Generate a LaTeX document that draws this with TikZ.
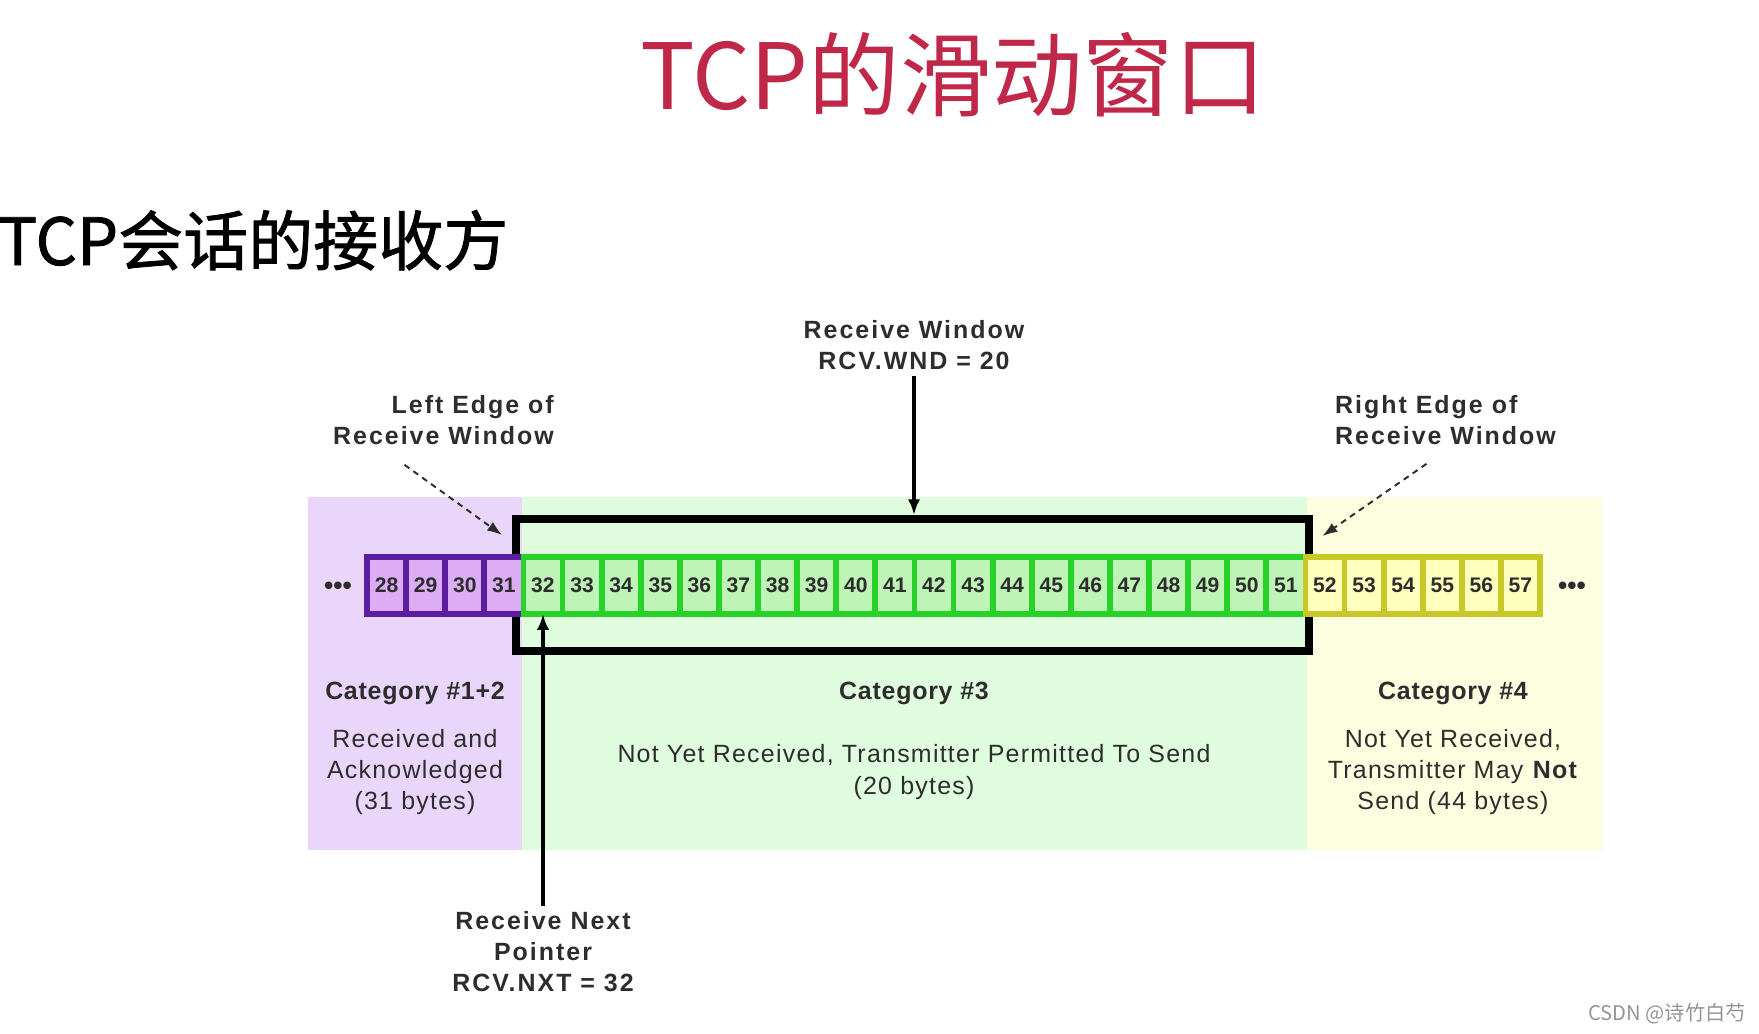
\documentclass[tikz,border=0pt]{standalone}
\usepackage{fontspec}
\setmainfont{Liberation Sans}
\newfontfamily\cjk{Noto Sans CJK SC}
\newfontfamily\cjkheavy[FakeBold=1.2]{Noto Sans CJK SC}
\newfontfamily\wide[LetterSpace=8]{Liberation Sans}
\newfontfamily\midwide[LetterSpace=3]{Liberation Sans}
\newfontfamily\slightwide[LetterSpace=5]{Liberation Sans}
\usetikzlibrary{arrows.meta,calc}
\definecolor{titlered}{RGB}{192,40,74}
\definecolor{bgacked}{RGB}{234,214,250}
\definecolor{bgwindow}{RGB}{224,252,222}
\definecolor{bgnotsend}{RGB}{253,253,224}
\definecolor{ackedline}{RGB}{92,30,160}
\definecolor{ackedfill}{RGB}{220,172,245}
\definecolor{winline}{RGB}{40,210,40}
\definecolor{winfill}{RGB}{190,245,182}
\definecolor{nsline}{RGB}{200,200,40}
\definecolor{nsfill}{RGB}{255,255,190}
\definecolor{inktext}{RGB}{45,45,45}

\begin{document}
\begin{tikzpicture}[x=0.02cm,y=-0.02cm,
  cell/.style={draw, line width=3.3pt, minimum width=0.782cm, minimum height=1.14cm,
    inner sep=0pt, outer sep=0pt, text=inktext, font=\fontsize{12}{14}\selectfont\bfseries},
  acked/.style={cell, draw=ackedline, fill=ackedfill},
  inwin/.style={cell, draw=winline, fill=winfill},
  notsend/.style={cell, draw=nsline, fill=nsfill},
  boldlabel/.style={text=inktext, align=center, font=\wide\fontsize{14.2}{17.6}\selectfont\bfseries},
  catlabel/.style={text=inktext, font=\midwide\fontsize{14.2}{17.6}\selectfont\bfseries},
  catbody/.style={text=inktext, align=center, font=\slightwide\fontsize{14.2}{17.9}\selectfont},
  ptr/.style={line width=2pt, -{Latex[length=9pt,width=7pt]}},
  edgeptr/.style={line width=1.1pt, draw=inktext, dash pattern=on 3.4pt off 2.8pt,
    -{Latex[length=8.5pt,width=6pt]}},
  dots/.style={text=inktext, font=\fontsize{15}{15}\selectfont\bfseries}]
  \useasboundingbox (0,0) rectangle (1759,1034);

  \node[anchor=base, inner sep=0pt, text=titlered, font=\cjk\fontsize{52}{60}\selectfont] (title) at (953,110) {TCP的滑动窗口};
  \node[anchor=base west, inner sep=0pt, font=\cjkheavy\fontsize{37}{44}\selectfont] (subtitle) at (-2,265) {TCP会话的接收方};

  \fill[bgacked] (308,497) rectangle (522,850);
  \fill[bgwindow] (522,497) rectangle (1307,850);
  \fill[bgnotsend] (1307,497) rectangle (1602,850);

  \node[draw, line width=4.5pt, minimum width=15.87cm, minimum height=2.64cm, inner sep=0pt] (rwnd) at (912.75,585) {};

  \foreach \n in {28,...,31} \node[acked] (c\n) at ({386.55+39.1*(\n-28)},585.5) {\n};
  \foreach \n in {32,...,51} \node[inwin] (c\n) at ({386.55+39.1*(\n-28)},585.5) {\n};
  \foreach \n in {52,...,57} \node[notsend] (c\n) at ({386.55+39.1*(\n-28)},585.5) {\n};

  \node[dots] (ldots) at (338,588) {\textbullet\textbullet\textbullet};
  \node[dots] (rdots) at (1572,588) {\textbullet\textbullet\textbullet};

  \node[boldlabel] (rwlabel) at (914,345) {Receive Window\\RCV.WND = 20};
  \node[boldlabel, align=right, anchor=east] (lelabel) at (560,420) {Left Edge of\\Receive Window};
  \node[boldlabel, align=left, anchor=west] (relabel) at (1329,420) {Right Edge of\\Receive Window};
  \node[boldlabel] (rnlabel) at (543,952) {Receive Next\\Pointer\\RCV.NXT = 32};

  \draw[ptr] (rwlabel.south) -- (rwlabel.south |- rwnd.north);
  \draw[ptr] (rnlabel.north) -- (rnlabel.north |- c32.south);
  \coordinate (lefttip) at ($(rwnd.north west)+(-10,20)$);
  \coordinate (righttip) at ($(rwnd.north east)+(9,21)$);
  \draw[edgeptr] ($(lelabel.south)+(-39,14)$) -- (lefttip);
  \draw[edgeptr] ($(relabel.south)+(-19,13)$) -- (righttip);

  \node[catlabel] (cat12) at (415,693) {Category \#1+2};
  \node[catlabel] (cat3) at (914,693) {Category \#3};
  \node[catlabel] (cat4) at (1453,693) {Category \#4};
  \node[catbody] (body12) at (415,772) {Received and\\Acknowledged\\(31 bytes)};
  \node[catbody] (body3) at (914,772) {Not Yet Received, Transmitter Permitted To Send\\(20 bytes)};
  \node[catbody] (body4) at (1453,772) {Not Yet Received,\\Transmitter May \textbf{Not}\\Send (44 bytes)};

  \node[anchor=base east, inner sep=0pt, text=black!42, font=\cjk\fontsize{11.5}{14}\selectfont] (mark) at (1746,1020) {CSDN @诗竹白芍};
\end{tikzpicture}
\end{document}
